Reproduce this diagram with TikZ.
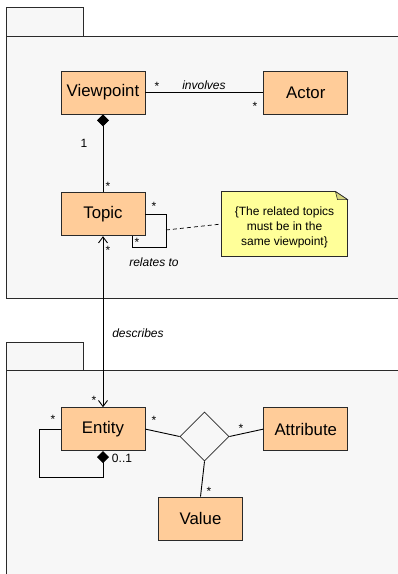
\documentclass[tikz,border=0pt]{standalone}
\usepackage{fontspec}
\setmainfont{Liberation Sans}
\usetikzlibrary{positioning, shapes.geometric, arrows.meta}
\definecolor{classfill}{HTML}{FFCC99}
\definecolor{pkgfill}{HTML}{F7F7F7}
\definecolor{notefill}{HTML}{FFFF99}
\definecolor{foldfill}{HTML}{D6D67E}
\definecolor{edge}{HTML}{2A2A2A}

\begin{document}
\begin{tikzpicture}[x=1pt, y=-1pt, line width=0.9pt,
	block/.style = { rectangle, draw=edge, fill=classfill, line width=0.8pt,
	minimum width=84pt, minimum height=43pt, font=\fontsize{16.8}{20}\selectfont },
	lbl/.style = { anchor=base, inner sep=0pt, font=\fontsize{12}{15}\selectfont },
	role/.style = { lbl, font=\fontsize{12}{15}\selectfont\itshape },
	notebox/.style = { rectangle, inner sep=0pt, minimum width=125pt, minimum height=64pt },
	comp/.style = { -{Diamond[length=12pt, width=12pt]} },
	nav/.style = { {Straight Barb[length=6pt, width=9pt]}-{Straight Barb[length=6pt, width=9pt]} } ]

  \useasboundingbox (0,0) rectangle (398,574);

  % packages
  \fill [pkgfill] (6,7) rectangle (83,36);
  \draw [edge, line width=1pt] (6,7) rectangle (83,36);
  \fill [pkgfill] (6,36) rectangle (398,298);
  \draw [edge, line width=1pt] (398,36) -- (6,36) -- (6,298) -- (398,298);
  \fill [pkgfill] (6,342) rectangle (83,370);
  \draw [edge, line width=1pt] (6,342) rectangle (83,370);
  \fill [pkgfill] (6,370) rectangle (398,574);
  \draw [edge, line width=1pt] (398,370) -- (6,370) -- (6,574);

  % classes
  \node [name=viewpoint, block] at (103,92.5) { Viewpoint };
  \node [name=actor, block, right=118pt of viewpoint] { Actor };
  \node [name=topic, block, below=78pt of viewpoint] { Topic };
  \node [name=entity, block, below=171pt of topic] { Entity };
  \node [name=attribute, block, right=118pt of entity] { Attribute };
  \node [name=value, block] at (200.5,518.5) { Value };
  \node [name=assoc, diamond, draw=edge, line width=0.8pt,
	minimum width=49pt, minimum height=49pt, inner sep=0pt] at (204.5,436.5) {};

  % note
  \node [name=note, notebox] at (284.5,224) {};
  \filldraw [fill=notefill, draw=edge, line width=0.8pt] (note.north west)
	-- ([xshift=-12pt]note.north east) -- ([yshift=-8pt]note.north east)
	-- (note.south east) -- (note.south west) -- cycle;
  \filldraw [fill=foldfill, draw=edge, line width=0.6pt] ([xshift=-12pt]note.north east)
	-- ([yshift=-8pt]note.north east) -- ([xshift=-10pt, yshift=-8pt]note.north east) -- cycle;
  \node [name=notetext, align=center, font=\fontsize{12}{15}\selectfont]
	at ([yshift=-3pt]note.center)
	{\{The related topics\\ must be in the\\ same viewpoint\}};

  % connectors
  \coordinate (topicloop) at (166,247);
  \coordinate (loopside) at (166,230);
  \coordinate (entityloop) at (39,477);
  \draw (viewpoint) -- (actor);
  \draw [comp] (topic) -- (viewpoint);
  \draw (topic.east) -| (topicloop) -| ([xshift=29pt]topic.south);
  \draw [dash pattern=on 4pt off 3pt, line width=0.7pt] (loopside) -- (note.west);
  \draw [nav] (topic) -- (entity);
  \draw [comp] (entity.west) -| (entityloop) -| (entity.south);
  \draw (entity.east) -- (assoc.west);
  \draw (attribute.west) -- (assoc.east);
  \draw (value.north) -- (assoc.south);

  % labels
  \node [name=involvesA, lbl] at (157,90) {*};
  \node [name=involves, role] at (204,89) {involves};
  \node [name=involvesB, lbl] at (255,110) {*};
  \node [name=compone, lbl] at (84,147) {1};
  \node [name=compmany, lbl] at (108,190) {*};
  \node [name=relA, lbl] at (154,210) {*};
  \node [name=relB, lbl] at (137,246) {*};
  \node [name=relates, role] at (154,266) {relates to};
  \node [name=descA, lbl] at (108,254) {*};
  \node [name=describes, role] at (138,337) {describes};
  \node [name=descB, lbl] at (94,404) {*};
  \node [name=partA, lbl] at (53,423) {*};
  \node [name=partB, lbl] at (122,462) {0..1};
  \node [name=assocA, lbl] at (154,424) {*};
  \node [name=assocB, lbl] at (241,432) {*};
  \node [name=assocC, lbl] at (209,495) {*};
\end{tikzpicture}
\end{document}
